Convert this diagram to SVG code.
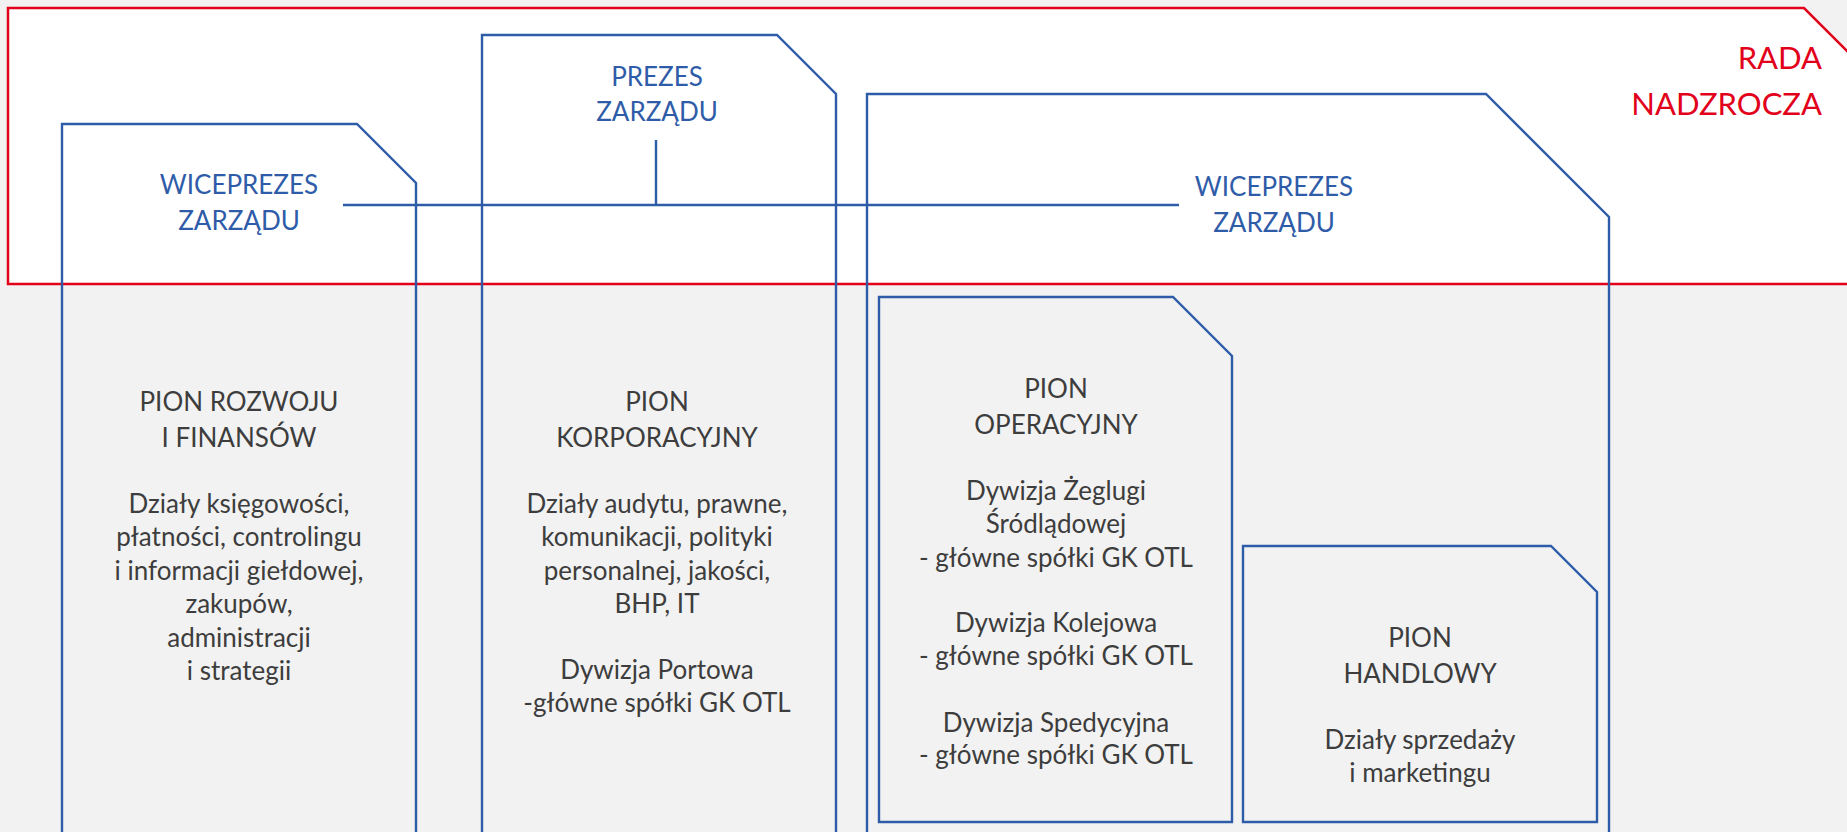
<svg xmlns="http://www.w3.org/2000/svg" width="1847" height="832" viewBox="0 0 1847 832">
<style>
.bg{fill:#f2f2f2}
.red{fill:#ffffff;stroke:#e2001a;stroke-width:2.5}
.box{fill:none;stroke:#2f5ca8;stroke-width:2.4}
.con{fill:none;stroke:#2f5ca8;stroke-width:2.4}
.t{font-family:Lato,"Open Sans",sans-serif;font-size:26px;text-anchor:middle}
.blue{fill:#2f5ca8}
.gray{fill:#3d3d3d}
.rt{font-family:Lato,"Open Sans",sans-serif;font-size:31px;fill:#e2001a;text-anchor:end}
</style>
<rect class="bg" x="0" y="0" width="1847" height="832"/>
<g id="rada">
<path class="red" d="M8,8 H1804 L1904,108 V284 H8 Z"/>
<text class="rt"><tspan x="1822" y="69">RADA</tspan><tspan x="1822" y="115">NADZROCZA</tspan></text>
</g>
<g id="wiceprezes-left">
<path class="box" d="M62,840 V124 H357 L416,183 V840"/>
<text class="t blue"><tspan x="239" y="194">WICEPREZES</tspan><tspan x="239" y="230">ZARZĄDU</tspan></text>
</g>
<g id="prezes">
<path class="box" d="M482,840 V35 H777 L836,94 V840"/>
<text class="t blue"><tspan x="657" y="86">PREZES</tspan><tspan x="657" y="121">ZARZĄDU</tspan></text>
</g>
<g id="wiceprezes-right">
<path class="box" d="M867,840 V94 H1486 L1609,217 V840"/>
<text class="t blue"><tspan x="1274" y="196">WICEPREZES</tspan><tspan x="1274" y="232">ZARZĄDU</tspan></text>
</g>
<g id="connectors">
<line class="con" x1="343" y1="205" x2="1179" y2="205"/>
<line class="con" x1="656" y1="140" x2="656" y2="205"/>
</g>
<g id="pion-rozwoju">
<text class="t gray"><tspan x="239" y="411">PION ROZWOJU</tspan><tspan x="239" y="447">I FINANSÓW</tspan><tspan x="239" y="513">Działy księgowości,</tspan><tspan x="239" y="546">płatności, controlingu</tspan><tspan x="239" y="580">i informacji giełdowej,</tspan><tspan x="239" y="613">zakupów,</tspan><tspan x="239" y="647">administracji</tspan><tspan x="239" y="680">i strategii</tspan></text>
</g>
<g id="pion-korporacyjny">
<text class="t gray"><tspan x="657" y="411">PION</tspan><tspan x="657" y="447">KORPORACYJNY</tspan><tspan x="657" y="513">Działy audytu, prawne,</tspan><tspan x="657" y="546">komunikacji, polityki</tspan><tspan x="657" y="580">personalnej, jakości,</tspan><tspan x="657" y="613">BHP, IT</tspan><tspan x="657" y="679">Dywizja Portowa</tspan><tspan x="657" y="712">-główne spółki GK OTL</tspan></text>
</g>
<g id="pion-operacyjny">
<path class="box" d="M879,822 V297 H1173 L1232,356 V822 Z"/>
<text class="t gray"><tspan x="1056" y="398">PION</tspan><tspan x="1056" y="434">OPERACYJNY</tspan><tspan x="1056" y="500">Dywizja Żeglugi</tspan><tspan x="1056" y="533">Śródlądowej</tspan><tspan x="1056" y="567">- główne spółki GK OTL</tspan><tspan x="1056" y="632">Dywizja Kolejowa</tspan><tspan x="1056" y="665">- główne spółki GK OTL</tspan><tspan x="1056" y="732">Dywizja Spedycyjna</tspan><tspan x="1056" y="764">- główne spółki GK OTL</tspan></text>
</g>
<g id="pion-handlowy">
<path class="box" d="M1243,822 V546 H1551 L1597,592 V822 Z"/>
<text class="t gray"><tspan x="1420" y="647">PION</tspan><tspan x="1420" y="683">HANDLOWY</tspan><tspan x="1420" y="749">Działy sprzedaży</tspan><tspan x="1420" y="782">i marketingu</tspan></text>
</g>
</svg>
